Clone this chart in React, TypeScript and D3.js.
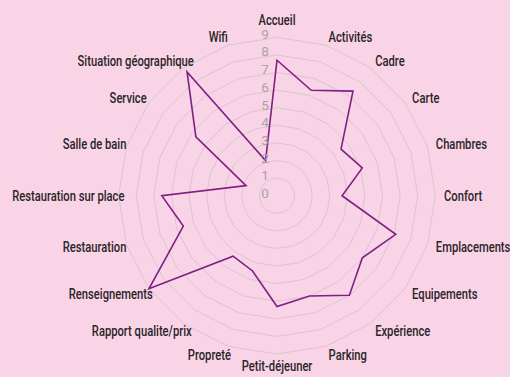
import React, { useRef, useEffect } from 'react';
import * as d3 from 'd3';

const categories = [
  'Accueil', 'Activités', 'Cadre', 'Carte', 'Chambres', 'Confort', 'Emplacements',
  'Equipements', 'Expérience', 'Parking', 'Petit-déjeuner', 'Propreté',
  'Rapport qualite/prix', 'Renseignements', 'Restauration', 'Restauration sur place',
  'Salle de bain', 'Service', 'Situation géographique', 'Wifi',
];
const scores = [
  7.7, 6.3, 7.35, 4.5, 5.1, 3.7, 7.1, 6.0, 7.0, 6.0, 6.3, 4.5, 4.25, 9.0, 5.6, 6.55,
  1.85, 5.7, 8.7, 2.1,
];
const ticks = [0, 1, 2, 3, 4, 5, 6, 7, 8, 9];

const W = 510;
const H = 377;
const cx = 277;
const cy = 195.7;
const R = 158.3;
const labelFont = 'Roboto, sans-serif';

const Radar = () => {
  const ref = useRef<SVGSVGElement>(null);

  useEffect(() => {
    const svg = d3.select(ref.current);
    svg.selectAll('*').remove();

    const n = categories.length;
    const r = d3.scaleLinear().domain([0, 9]).range([0, R]);
    const angle = (i: number) => (i * 2 * Math.PI) / n;
    const pt = (i: number, rad: number): [number, number] => [
      cx + rad * Math.sin(angle(i)),
      cy - rad * Math.cos(angle(i)),
    ];

    svg.append('rect').attr('width', W).attr('height', H).attr('fill', '#f9d4e6');

    const g = svg.append('g');

    // grid rings
    const ring = d3.line().curve(d3.curveLinearClosed);
    g.selectAll('.ring')
      .data(ticks.filter((t) => t > 0))
      .enter()
      .append('path')
      .attr('d', (t) => ring(categories.map((_, i) => pt(i, r(t)))))
      .attr('fill', 'none')
      .attr('stroke', '#dcc4d0')
      .attr('stroke-width', 1);

    // data line
    const line = d3.lineRadial<number>()
      .angle((_, i) => angle(i))
      .radius((d) => r(d))
      .curve(d3.curveLinearClosed);
    g.append('path')
      .attr('transform', `translate(${cx},${cy})`)
      .attr('d', line(scores))
      .attr('fill', 'none')
      .attr('stroke', '#7e1f86')
      .attr('stroke-width', 1.6);

    // tick labels
    g.selectAll('.tick')
      .data(ticks)
      .enter()
      .append('text')
      .attr('x', cx - 12)
      .attr('y', (t) => cy - r(t) - 2.5 - t * 0.15)
      .attr('text-anchor', 'middle')
      .attr('dominant-baseline', 'central')
      .attr('font-family', labelFont)
      .attr('font-size', 13.5)
      .attr('fill', '#a9a2a6')
      .text((t) => t);

    // condensed look: squeeze a regular font horizontally
    const probe = g.append('text')
      .attr('font-family', labelFont)
      .attr('font-size', 15)
      .attr('font-weight', 500)
      .text('Renseignements');
    const k = 84 / (probe.node() as SVGTextElement).getComputedTextLength();
    probe.remove();

    // category labels
    categories.forEach((c, i) => {
      const deg = (i * 360) / n;
      const lg = g.append('g');
      const t = lg.append('text')
        .attr('font-family', labelFont)
        .attr('font-size', 15)
        .attr('font-weight', 500)
        .attr('fill', '#2a2528')
        .text(c);
      const w = (t.node() as SVGTextElement).getComputedTextLength() * k;
      let x: number;
      let y: number;
      if (deg === 0) {
        [x, y] = pt(i, 171);
        t.attr('text-anchor', 'middle');
      } else if (deg === 180) {
        [x, y] = pt(i, 164);
        t.attr('text-anchor', 'middle').attr('dominant-baseline', 'hanging');
      } else if (deg < 180) {
        [x, y] = pt(i, 167);
        t.attr('dominant-baseline', 'central');
      } else {
        [x, y] = pt(i, 167);
        x -= 0.87 * w;
        t.attr('dominant-baseline', 'central');
      }
      lg.attr('transform', `translate(${x},${y}) scale(${k},1)`);
    });
  }, []);

  return (
    <svg
      ref={ref}
      width={W}
      height={H}
      style={{ position: 'absolute', left: 0, top: 0, display: 'block' }}
    />
  );
};

export default function App() {
  return <Radar />;
}
